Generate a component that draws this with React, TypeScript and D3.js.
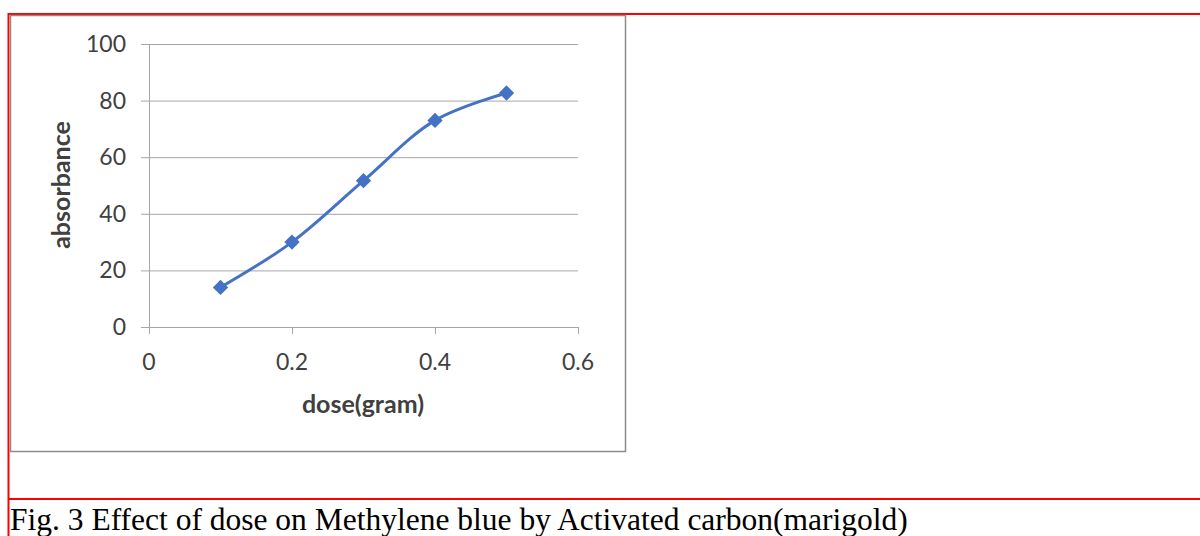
import { useRef, useEffect } from 'react';
import * as d3 from 'd3';

const doses = [0.1, 0.2, 0.3, 0.4, 0.5];
const absorbance = [14, 30, 51.7, 73, 82.7];
const xTicks = [0, 0.2, 0.4, 0.6];
const yTicks = [0, 20, 40, 60, 80, 100];
const caption = 'Fig. 3 Effect of dose on Methylene blue by Activated carbon(marigold)';

export default function App() {
  const svgRef = useRef<SVGSVGElement>(null);

  useEffect(() => {
    const svg = d3.select(svgRef.current);
    svg.selectAll('*').remove();

    const W = 1200, H = 536;
    const font = 'Lato, "Open Sans", sans-serif';

    // table cell frame (red)
    svg.append('line').attr('x1', 8).attr('x2', W).attr('y1', 14).attr('y2', 14)
      .attr('stroke', '#ff0000').attr('stroke-width', 2);
    svg.append('line').attr('x1', 8.5).attr('x2', 8.5).attr('y1', 13).attr('y2', H)
      .attr('stroke', '#ff0000').attr('stroke-width', 2);
    svg.append('line').attr('x1', 8).attr('x2', W).attr('y1', 499).attr('y2', 499)
      .attr('stroke', '#ff0000').attr('stroke-width', 2);

    // chart area border
    svg.append('rect').attr('x', 10.5).attr('y', 15.5).attr('width', 615).attr('height', 436)
      .attr('fill', '#fff').attr('stroke', '#8c8c8c').attr('stroke-width', 1.5);

    const x = d3.scaleLinear().domain([0, 0.6]).range([149, 578]);
    const y = d3.scaleLinear().domain([0, 100]).range([327, 44]);

    const g = svg.append('g');

    // gridlines
    g.selectAll('line.grid').data(yTicks).join('line')
      .attr('x1', 141).attr('x2', 578)
      .attr('y1', d => y(d) + 0.5).attr('y2', d => y(d) + 0.5)
      .attr('stroke', '#a6a6a6').attr('stroke-width', 1);

    // y axis line
    g.append('line').attr('x1', 149.5).attr('x2', 149.5).attr('y1', 44).attr('y2', 327)
      .attr('stroke', '#a6a6a6');
    // x ticks
    g.selectAll('line.xt').data(xTicks).join('line')
      .attr('x1', d => x(d) + 0.5).attr('x2', d => x(d) + 0.5)
      .attr('y1', 327).attr('y2', 334)
      .attr('stroke', '#a6a6a6');

    g.selectAll('text.yl').data(yTicks).join('text')
      .attr('x', 126).attr('y', d => y(d) + 8)
      .attr('text-anchor', 'end')
      .attr('font-family', font).attr('font-size', 23).attr('fill', '#404040')
      .text(d => d);

    g.selectAll('text.xl').data(xTicks).join('text')
      .attr('x', d => x(d)).attr('y', 370)
      .attr('text-anchor', 'middle')
      .attr('font-family', font).attr('font-size', 23).attr('fill', '#404040')
      .text(d => (d === 0 ? '0' : d.toString()));

    svg.append('text').attr('x', 363).attr('y', 413)
      .attr('text-anchor', 'middle').attr('font-family', font).attr('font-weight', 'bold')
      .attr('font-size', 25).attr('fill', '#404040').text('dose(gram)');

    svg.append('text').attr('transform', 'translate(70,185) rotate(-90)')
      .attr('text-anchor', 'middle').attr('font-family', font).attr('font-weight', 'bold')
      .attr('font-size', 25).attr('fill', '#404040').text('absorbance');

    const pts = doses.map((d, i) => [d, absorbance[i]] as [number, number]);
    const line = d3.line<[number, number]>()
      .x(p => x(p[0])).y(p => y(p[1]))
      .curve(d3.curveCatmullRom.alpha(0.5));

    g.append('path').datum(pts).attr('d', line)
      .attr('fill', 'none').attr('stroke', '#4472c4').attr('stroke-width', 3)
      .attr('stroke-linecap', 'round');

    const sym = d3.symbol().type(d3.symbolDiamond2).size(150);
    g.selectAll('path.mk').data(pts).join('path')
      .attr('d', sym as any)
      .attr('transform', p => `translate(${x(p[0])},${y(p[1])})`)
      .attr('fill', '#4472c4');

    svg.append('text').attr('x', 10).attr('y', 530)
      .attr('font-family', '"Liberation Serif", "Times New Roman", serif')
      .attr('font-size', 31.5).attr('fill', '#000').text(caption);
  }, []);

  return (
    <svg ref={svgRef} width={1200} height={536}
      style={{ position: 'absolute', left: 0, top: 0, background: '#fff' }} />
  );
}
